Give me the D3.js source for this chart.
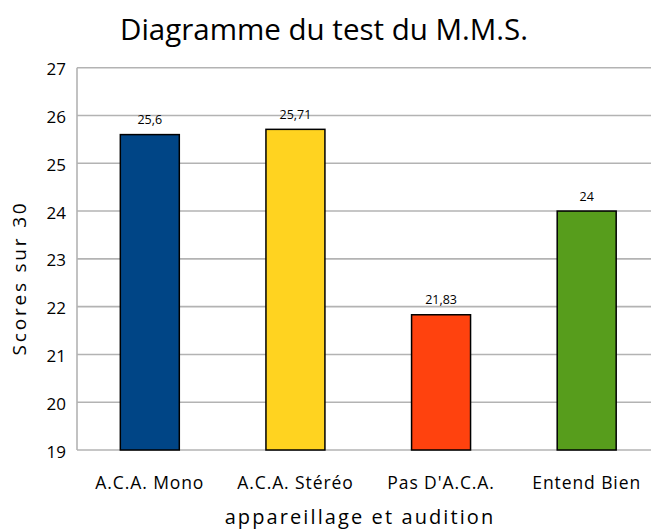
<!DOCTYPE html>
<html>
<head>
<meta charset="utf-8">
<script src="https://cdn.jsdelivr.net/npm/d3@7"></script>
<style>
  body { margin: 0; background: #fff; }
  svg { display: block; font-family: "Open Sans", "Noto Sans", sans-serif; }
</style>
</head>
<body>
<svg id="chart" width="651" height="529"></svg>
<script>
// data
var categories = ["A.C.A. Mono", "A.C.A. Stéréo", "Pas D'A.C.A.", "Entend Bien"];
var scores     = [25.6, 25.71, 21.83, 24];
var valueLabels = ["25,6", "25,71", "21,83", "24"];
var barColors  = ["#004586", "#ffd320", "#ff420e", "#579d1c"];
var yTicks     = [19, 20, 21, 22, 23, 24, 25, 26, 27];

var svg = d3.select("#chart");

// plot box (right edge runs past the window, as in the reference)
var plotLeft = 77, plotRight = 659.5, plotTop = 67.7, plotBottom = 450;

var x = d3.scaleBand()
    .domain(categories)
    .range([plotLeft, plotRight])
    .paddingInner(0.595)
    .paddingOuter(0.2975);

var y = d3.scaleLinear()
    .domain([19, 27])
    .range([plotBottom, plotTop]);

// gridlines
svg.append("g")
  .selectAll("line")
  .data(yTicks)
  .enter().append("line")
  .attr("x1", plotLeft).attr("x2", 651)
  .attr("y1", d => y(d)).attr("y2", d => y(d))
  .attr("stroke", "#b3b3b3")
  .attr("stroke-width", 1.6);

// left axis line
svg.append("line")
  .attr("x1", plotLeft).attr("x2", plotLeft)
  .attr("y1", plotTop).attr("y2", plotBottom)
  .attr("stroke", "#b3b3b3")
  .attr("stroke-width", 1.6);

// y tick labels
svg.append("g")
  .selectAll("text")
  .data(yTicks)
  .enter().append("text")
  .attr("x", 66)
  .attr("y", d => y(d) + 7.5)
  .attr("text-anchor", "end")
  .attr("font-size", 17)
  .attr("fill", "#000")
  .text(d => d);

// bars
svg.append("g")
  .selectAll("rect")
  .data(scores)
  .enter().append("rect")
  .attr("x", (d, i) => x(categories[i]))
  .attr("width", x.bandwidth())
  .attr("y", d => y(d))
  .attr("height", d => y(19) - y(d))
  .attr("fill", (d, i) => barColors[i])
  .attr("stroke", "#000")
  .attr("stroke-width", 1.5);

// value labels
svg.append("g")
  .selectAll("text")
  .data(scores)
  .enter().append("text")
  .attr("x", (d, i) => x(categories[i]) + x.bandwidth() / 2)
  .attr("y", d => y(d) - 10.5)
  .attr("text-anchor", "middle")
  .attr("font-size", 12.5)
  .text((d, i) => valueLabels[i]);

// category labels
svg.append("g")
  .selectAll("text")
  .data(categories)
  .enter().append("text")
  .attr("x", d => x(d) + x.bandwidth() / 2)
  .attr("y", 489)
  .attr("text-anchor", "middle")
  .attr("font-size", 17.5)
  .attr("letter-spacing", 0.9)
  .text(d => d);

// title
svg.append("text")
  .attr("x", 324)
  .attr("y", 40)
  .attr("text-anchor", "middle")
  .attr("font-size", 29.5)
  .text("Diagramme du test du M.M.S.");

// axis titles
svg.append("text")
  .attr("x", 360)
  .attr("y", 524)
  .attr("text-anchor", "middle")
  .attr("font-size", 20)
  .attr("letter-spacing", 2.1)
  .text("appareillage et audition");

svg.append("text")
  .attr("transform", "translate(26,278) rotate(-90)")
  .attr("text-anchor", "middle")
  .attr("font-size", 19)
  .attr("letter-spacing", 2.8)
  .text("Scores sur 30");
</script>
</body>
</html>
